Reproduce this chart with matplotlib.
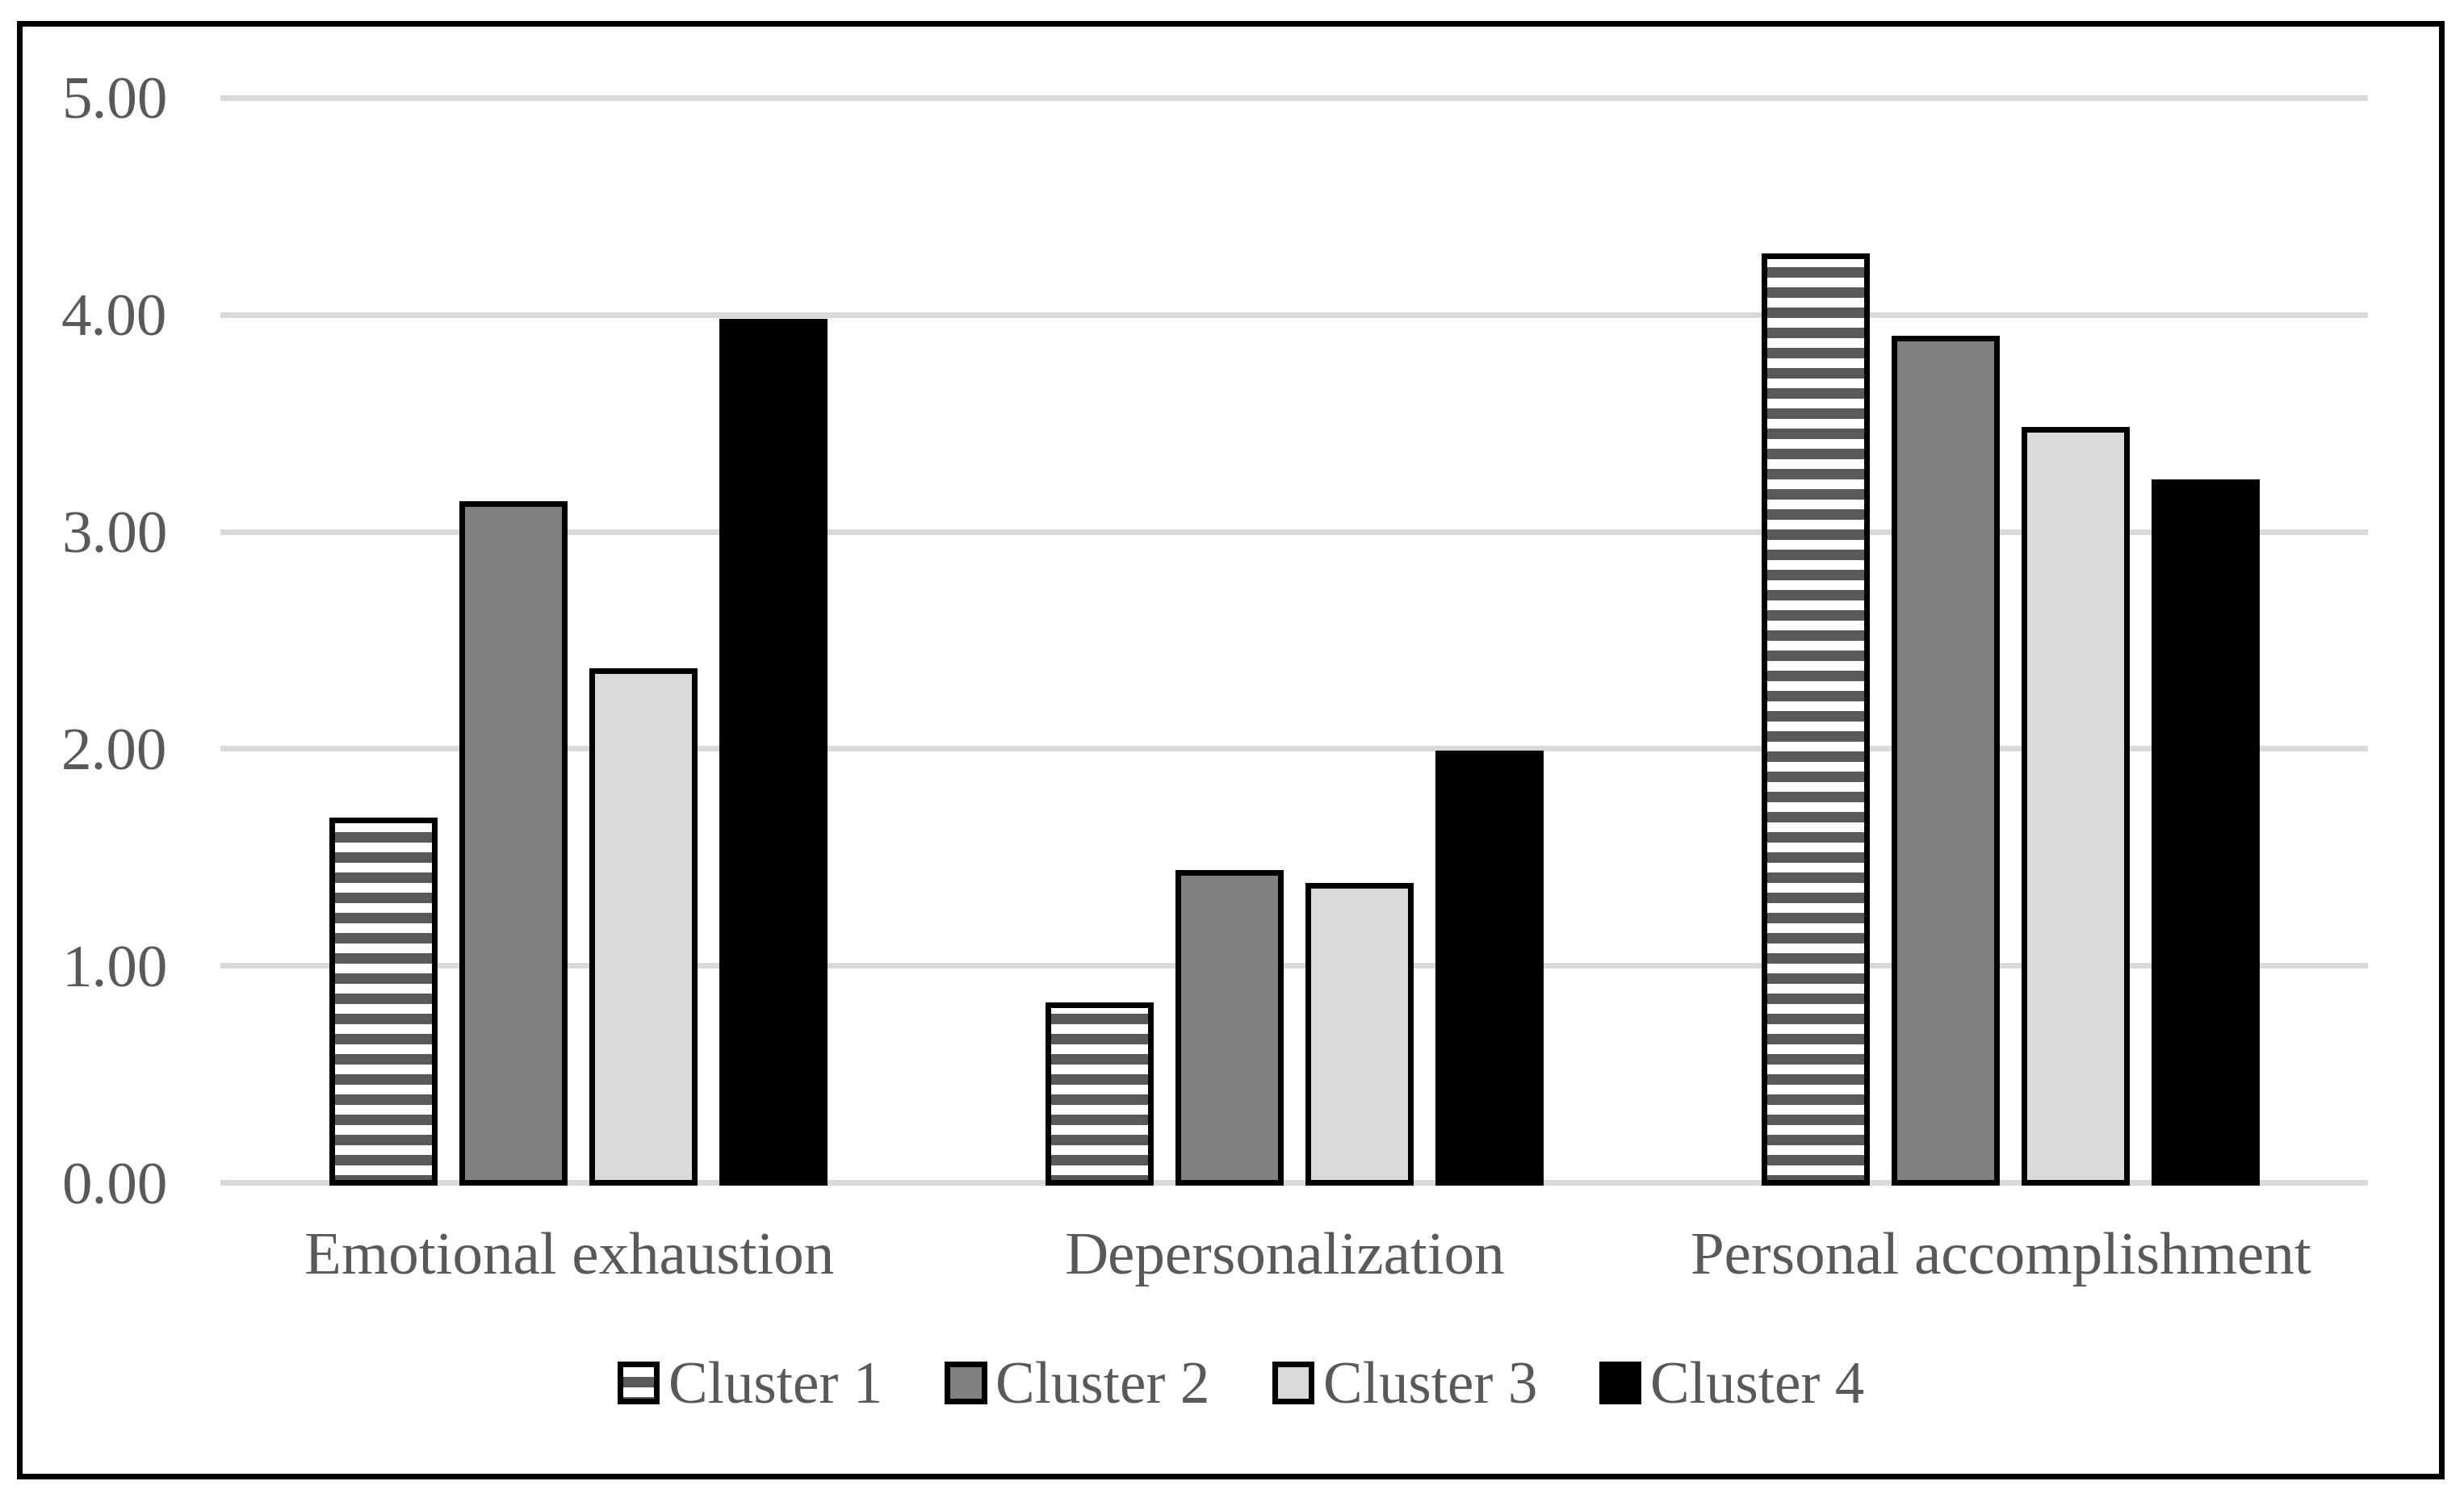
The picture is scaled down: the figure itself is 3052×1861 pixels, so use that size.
import matplotlib
matplotlib.use('Agg')
import numpy as np
import matplotlib.pyplot as plt
from matplotlib.patches import Patch, Rectangle
from matplotlib.legend_handler import HandlerTuple
from matplotlib.transforms import ScaledTranslation

# data
categories = ['Emotional exhaustion', 'Depersonalization', 'Personal accomplishment']
series_names = ['Cluster 1', 'Cluster 2', 'Cluster 3', 'Cluster 4']
cluster1 = [1.67, 0.82, 4.27]
cluster2 = [3.13, 1.43, 3.89]
cluster3 = [2.36, 1.37, 3.47]
cluster4 = [3.97, 1.98, 3.23]
y_ticks = [0, 1, 2, 3, 4, 5]

DPI = 150
PX = 72.0 / DPI  # one pixel in points
TEXT = '#595959'

plt.rcParams['font.family'] = ['Liberation Serif', 'DejaVu Serif']
plt.rcParams['hatch.linewidth'] = 13 * PX

fig = plt.figure(figsize=(3053 / DPI, 1861 / DPI), dpi=DPI)
ax = fig.add_axes([0.08942, 0.21037, 0.87127, 0.72703])

x = np.arange(len(categories))
pitch = 0.1816
width = 0.1432
offsets = (np.arange(4) - 1.5) * pitch
edge_lw = 7 * PX

# Cluster 1: striped fill, then a black outline on top
ax.bar(x + offsets[0], cluster1, width, color='white', edgecolor=TEXT,
       hatch='-', linewidth=0, zorder=2)
ax.bar(x + offsets[0], cluster1, width, fill=False, edgecolor='black',
       linewidth=edge_lw, zorder=3)
ax.bar(x + offsets[1], cluster2, width, color='#808080', edgecolor='black',
       linewidth=edge_lw, zorder=3)
ax.bar(x + offsets[2], cluster3, width, color='#d9d9d9', edgecolor='black',
       linewidth=edge_lw, zorder=3)
ax.bar(x + offsets[3], cluster4, width, color='black', edgecolor='black',
       linewidth=edge_lw, zorder=3)

ax.set_xlim(-0.5, 2.5)
ax.set_ylim(-0.015, 5.015)
ax.set_yticks(y_ticks)
ax.set_yticklabels(['%.2f' % t for t in y_ticks])
ax.set_xticks(x)
ax.set_xticklabels(categories)
ax.tick_params(axis='y', length=0, pad=31.5, labelsize=36, labelcolor=TEXT)
ax.tick_params(axis='x', length=0, pad=27.5, labelsize=36, labelcolor=TEXT)
# category labels sit a little left of the group centres
shift = ScaledTranslation(-11 / DPI, 0, fig.dpi_scale_trans)
for lab in ax.get_xticklabels():
    lab.set_transform(lab.get_transform() + shift)
ax.yaxis.grid(True, color='#d9d9d9', linewidth=7 * PX, zorder=1)
ax.set_axisbelow(True)
for s in ax.spines.values():
    s.set_visible(False)

# legend
h1 = (Patch(facecolor='white', edgecolor=TEXT, hatch='-', linewidth=0),
      Patch(fill=False, edgecolor='black', linewidth=edge_lw))
h2 = Patch(facecolor='#808080', edgecolor='black', linewidth=edge_lw)
h3 = Patch(facecolor='#d9d9d9', edgecolor='black', linewidth=edge_lw)
h4 = Patch(facecolor='black', edgecolor='black', linewidth=edge_lw)
fig.legend([h1, h2, h3, h4], series_names, loc='center', ncol=4,
           bbox_to_anchor=(0.504, 0.0752), frameon=False, fontsize=35,
           labelcolor=TEXT, handlelength=0.62, handleheight=0.6,
           handletextpad=0.2, columnspacing=1.1, borderpad=0,
           handler_map={tuple: HandlerTuple(ndivide=1, pad=0)})

# outer frame
fig.patches.append(Rectangle((0.00802, 0.01720), 0.99050 - 0.00802, 0.98442 - 0.01720,
                             transform=fig.transFigure, fill=False,
                             edgecolor='black', linewidth=7 * PX))

fig.savefig('out.png', dpi=DPI, facecolor='white')
